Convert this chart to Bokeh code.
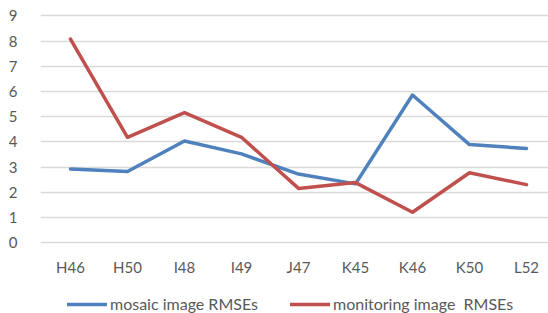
from bokeh.plotting import figure
from bokeh.models import Range1d, FixedTicker, Legend, LegendItem, ColumnDataSource
from bokeh.embed import file_html
from bokeh.resources import INLINE

categories = ["H46", "H50", "I48", "I49", "J47", "K45", "K46", "K50", "L52"]
mosaic_rmse = [2.92, 2.82, 4.03, 3.52, 2.72, 2.33, 5.86, 3.89, 3.74]
monitoring_rmse = [8.08, 4.18, 5.16, 4.18, 2.15, 2.38, 1.2, 2.77, 2.3]
y_ticks = [0, 1, 2, 3, 4, 5, 6, 7, 8, 9]

xs = list(range(len(categories)))
src = ColumnDataSource(dict(x=xs, mosaic=mosaic_rmse, monitoring=monitoring_rmse))

FONT = "Lato"
GREY = "#595959"

p = figure(width=548, height=313, output_backend="svg", toolbar_location=None,
           x_range=Range1d(-0.526, 8.386), y_range=Range1d(-2.82, 9.615),
           min_border_left=40, min_border_right=0, min_border_top=0, min_border_bottom=0)
p.outline_line_color = None
p.background_fill_color = "white"
p.border_fill_color = "white"

r1 = p.line("x", "mosaic", source=src, line_color="#4F81BD", line_width=3.5,
            line_join="round", line_cap="round")
r2 = p.line("x", "monitoring", source=src, line_color="#C0504D", line_width=3.5,
            line_join="round", line_cap="round")

p.xgrid.visible = False
p.ygrid.grid_line_color = "#D9D9D9"
p.ygrid.grid_line_width = 1.3

p.yaxis.ticker = FixedTicker(ticks=y_ticks)
p.yaxis.axis_line_color = None
p.yaxis.major_tick_line_color = None
p.yaxis.minor_tick_line_color = None
p.yaxis.major_label_standoff = 17
p.yaxis.major_label_text_font = FONT
p.yaxis.major_label_text_font_size = "15px"
p.yaxis.major_label_text_color = GREY

p.xaxis.ticker = FixedTicker(ticks=xs)
p.xaxis.fixed_location = -0.24
p.xaxis.major_label_overrides = {i: c for i, c in enumerate(categories)}
p.xaxis.axis_line_color = None
p.xaxis.major_tick_line_color = None
p.xaxis.minor_tick_line_color = None
p.xaxis.major_label_standoff = 3
p.xaxis.major_label_text_font = FONT
p.xaxis.major_label_text_font_size = "15px"
p.xaxis.major_label_text_color = GREY

legend = Legend(items=[LegendItem(label="mosaic image RMSEs", renderers=[r1]),
                       LegendItem(label="monitoring image  RMSEs", renderers=[r2])],
                orientation="horizontal", location=(27, 0),
                glyph_width=40, glyph_height=14, label_standoff=3, spacing=32,
                padding=0, margin=0, border_line_color=None,
                label_text_font=FONT, label_text_font_size="16px",
                label_text_color=GREY, background_fill_alpha=0)
p.add_layout(legend, "center")

open("out.html", "w").write(file_html(p, INLINE))
